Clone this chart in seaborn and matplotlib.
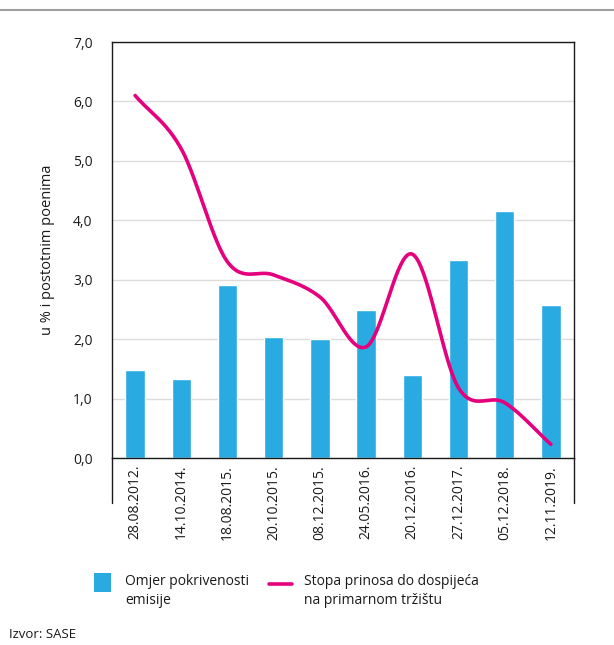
import numpy as np
import pandas as pd
import matplotlib
matplotlib.use("Agg")
import matplotlib.pyplot as plt
import seaborn as sns
from matplotlib.lines import Line2D
from matplotlib.patches import Rectangle

dates = ["28.08.2012.", "14.10.2014.", "18.08.2015.", "20.10.2015.", "08.12.2015.",
         "24.05.2016.", "20.12.2016.", "27.12.2017.", "05.12.2018.", "12.11.2019."]
coverage = [1.48, 1.33, 2.91, 2.04, 2.00, 2.49, 1.40, 3.33, 4.16, 2.58]
yield_rate = [6.10, 5.20, 3.30, 3.08, 2.71, 1.87, 3.43, 1.18, 0.93, 0.23]

bar_label = "Omjer pokrivenosti\nemisije"
line_label = "Stopa prinosa do dospijeća\nna primarnom tržištu"
y_label = "u % i postotnim poenima"
source = "Izvor: SASE"

sns.set_theme(style="white")
plt.rcParams['font.family'] = ['Open Sans', 'DejaVu Sans']

BAR_COLOR = "#29abe2"
LINE_COLOR = "#e5007e"
TXT = "#1a1a1a"

fig = plt.figure(figsize=(6.14, 6.45), dpi=100)
ax = fig.add_axes([112/614, 1-458/645, 462/614, 416/645])

df = pd.DataFrame({"date": dates, "coverage": coverage})
sns.barplot(data=df, x="date", y="coverage", color=BAR_COLOR, width=0.42,
            saturation=1, ax=ax, zorder=2)

# smooth (Catmull-Rom) curve through the yield points
def catmull_rom(xs, ys, n=40):
    xs = np.asarray(xs, float); ys = np.asarray(ys, float)
    P = np.column_stack([xs, ys])
    P = np.vstack([2*P[0]-P[1], P, 2*P[-1]-P[-2]])
    out = []
    for i in range(1, len(P)-2):
        p0, p1, p2, p3 = P[i-1], P[i], P[i+1], P[i+2]
        t = np.linspace(0, 1, n, endpoint=(i == len(P)-3))[:, None]
        seg = 0.5*((2*p1) + (-p0+p2)*t + (2*p0-5*p1+4*p2-p3)*t**2 + (-p0+3*p1-3*p2+p3)*t**3)
        out.append(seg)
    out = np.vstack(out)
    return out[:, 0], out[:, 1]

sx, sy = catmull_rom(np.arange(len(dates)), yield_rate)
ax.plot(sx, sy, color=LINE_COLOR, lw=2.6, zorder=3, solid_capstyle="round")

ax.set_xlim(-0.5, len(dates)-0.5)
ax.set_ylim(0, 7)
ticks = np.arange(0, 7.01, 1)
ax.set_yticks(ticks)
ax.set_yticklabels([f"{v:.1f}".replace(".", ",") for v in ticks])
ax.yaxis.grid(True, color="#dcdcdc", lw=1)
ax.set_axisbelow(True)
ax.tick_params(axis="y", length=0, pad=14, labelsize=10, colors=TXT)
ax.tick_params(axis="x", length=0, pad=5, labelsize=10, colors=TXT, rotation=90)
ax.set_xlabel("")
ax.set_ylabel(y_label, fontsize=10.5, color=TXT, labelpad=13)
for s in ax.spines.values():
    s.set_color(TXT)
    s.set_linewidth(1)

# frame extends below the x axis
for xpos in (0, 1):
    ax.plot([xpos, xpos], [0, -45/416], transform=ax.transAxes, color=TXT,
            lw=1, clip_on=False)

# top rule
fig.add_artist(Line2D([0, 1], [1-10/645, 1-10/645], color="#a0a0a0", lw=1.5))

# legend (drawn in figure coordinates)
W, H = 614, 645
fig.add_artist(Rectangle((94/W, 1-592/H), 17/W, 19/H, facecolor=BAR_COLOR,
                         edgecolor="none", transform=fig.transFigure))
fig.text(125/W, 1-574/H, bar_label, fontsize=10, color=TXT, va="top", ha="left",
         linespacing=1.35)
fig.add_artist(Line2D([269/W, 292/W], [1-584/H, 1-584/H], color=LINE_COLOR, lw=2.6))
fig.text(304/W, 1-574/H, line_label, fontsize=10, color=TXT, va="top", ha="left",
         linespacing=1.35)

fig.text(9/W, 1-634/H, source, fontsize=9.5, color=TXT, va="center", ha="left")

fig.savefig("out.png", dpi=100)
